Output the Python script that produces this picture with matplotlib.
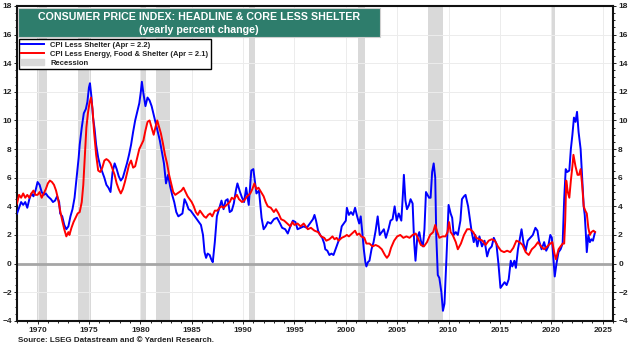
import numpy as np
import matplotlib.pyplot as plt
from matplotlib.patches import Rectangle
from matplotlib.ticker import MultipleLocator

plt.rcParams['font.family'] = ['Liberation Sans', 'DejaVu Sans']

# CPI less shelter (yearly % change)
blue_t = [1968.0, 1968.2, 1968.4, 1968.6, 1968.8, 1969.0, 1969.2, 1969.4, 1969.6, 1969.8,
          1970.0, 1970.2, 1970.4, 1970.6, 1970.8, 1971.0, 1971.3, 1971.5, 1971.7, 1971.9,
          1972.1, 1972.2, 1972.4, 1972.6, 1972.8, 1973.0, 1973.2, 1973.4, 1973.6, 1973.8,
          1974.0, 1974.1, 1974.3, 1974.5, 1974.7, 1974.85, 1975.0, 1975.1, 1975.25, 1975.4,
          1975.55, 1975.7, 1975.9, 1976.1, 1976.3, 1976.5, 1976.7, 1976.9, 1977.1, 1977.3,
          1977.5, 1977.7, 1977.9, 1978.1, 1978.3, 1978.5, 1978.7, 1978.9, 1979.1, 1979.3,
          1979.5, 1979.7, 1979.9, 1980.05, 1980.15, 1980.3, 1980.5, 1980.7, 1980.9, 1981.1,
          1981.3, 1981.5, 1981.7, 1981.9, 1982.1, 1982.3, 1982.5, 1982.7, 1982.9, 1983.1,
          1983.3, 1983.5, 1983.7, 1983.9, 1984.1, 1984.3, 1984.5, 1984.7, 1984.9, 1985.1,
          1985.3, 1985.5, 1985.7, 1985.9, 1986.1, 1986.25, 1986.4, 1986.55, 1986.75, 1986.9,
          1987.05, 1987.25, 1987.45, 1987.7, 1987.9, 1988.1, 1988.3, 1988.5, 1988.7, 1988.9,
          1989.1, 1989.3, 1989.45, 1989.7, 1989.9, 1990.1, 1990.3, 1990.55, 1990.8, 1991.0,
          1991.3, 1991.55, 1991.8, 1992.0, 1992.2, 1992.4, 1992.7, 1993.0, 1993.3, 1993.6,
          1993.8, 1994.1, 1994.35, 1994.6, 1994.85, 1995.1, 1995.3, 1995.6, 1995.9, 1996.2,
          1996.5, 1996.8, 1996.95, 1997.1, 1997.3, 1997.5, 1997.7, 1997.9, 1998.0, 1998.2,
          1998.4, 1998.6, 1998.8, 1999.0, 1999.2, 1999.4, 1999.6, 1999.8, 2000.0, 2000.1,
          2000.3, 2000.5, 2000.7, 2000.9, 2001.1, 2001.3, 2001.45, 2001.6, 2001.75, 2001.9,
          2002.0, 2002.15, 2002.3, 2002.5, 2002.7, 2002.9, 2003.1, 2003.3, 2003.5, 2003.7,
          2003.9, 2004.15, 2004.35, 2004.55, 2004.75, 2004.95, 2005.15, 2005.4, 2005.55, 2005.65,
          2005.8, 2005.95, 2006.15, 2006.3, 2006.5, 2006.65, 2006.78, 2006.95, 2007.15, 2007.3,
          2007.5, 2007.65, 2007.8, 2007.95, 2008.1, 2008.25, 2008.4, 2008.55, 2008.7, 2008.8,
          2008.95, 2009.1, 2009.3, 2009.45, 2009.6, 2009.8, 2010.0, 2010.2, 2010.35, 2010.5,
          2010.7, 2010.9, 2011.15, 2011.3, 2011.5, 2011.65, 2011.9, 2012.1, 2012.25, 2012.45,
          2012.6, 2012.8, 2013.0, 2013.25, 2013.5, 2013.75, 2013.95, 2014.2, 2014.4, 2014.65,
          2014.85, 2015.05, 2015.25, 2015.45, 2015.65, 2015.85, 2016.05, 2016.2, 2016.4, 2016.55,
          2016.75, 2016.9, 2017.1, 2017.3, 2017.5, 2017.7, 2017.95, 2018.2, 2018.45, 2018.65,
          2018.8, 2019.05, 2019.3, 2019.5, 2019.7, 2019.9, 2020.05, 2020.2, 2020.33, 2020.5,
          2020.7, 2020.9, 2021.1, 2021.25, 2021.4, 2021.55, 2021.75, 2021.9, 2022.05, 2022.2,
          2022.35, 2022.5, 2022.65, 2022.85, 2023.0, 2023.15, 2023.25, 2023.35, 2023.45, 2023.6,
          2023.75, 2023.9, 2024.05, 2024.25]
blue_v = [3.5, 3.9, 4.3, 4.1, 4.3, 3.9, 4.5, 4.9, 4.7, 5.1,
          5.7, 5.5, 5.0, 4.8, 4.9, 4.7, 4.5, 4.3, 4.4, 4.7,
          4.3, 3.5, 3.3, 2.7, 2.4, 2.6, 3.3, 3.8, 4.6, 6.0,
          7.4, 8.3, 9.5, 10.5, 10.8, 11.3, 12.3, 12.6, 11.6, 10.2,
          9.4, 8.3, 7.4, 6.8, 6.4, 6.0, 5.5, 5.3, 5.0, 6.4,
          7.0, 6.6, 6.1, 5.8, 6.0, 6.5, 7.0, 7.6, 8.3, 9.2,
          10.0, 10.6, 11.2, 12.0, 12.7, 11.9, 11.0, 11.6, 11.4, 11.0,
          10.4, 9.8, 9.2, 8.6, 7.8, 7.0, 5.6, 6.2, 5.4, 4.8,
          4.3, 3.6, 3.3, 3.4, 3.5, 4.5, 4.2, 3.8, 3.7, 3.5,
          3.3, 3.1, 2.9, 2.7, 2.0, 0.8, 0.4, 0.7, 0.6, 0.3,
          0.1, 1.5, 3.3, 3.9, 4.4, 3.8, 4.4, 4.5, 3.6, 3.7,
          4.2, 5.1, 5.6, 5.0, 4.6, 4.3, 5.3, 4.1, 6.5, 6.6,
          4.9, 5.1, 3.2, 2.4, 2.6, 2.9, 2.8, 3.1, 3.2, 2.8,
          2.5, 2.4, 2.1, 2.6, 3.0, 2.9, 2.4, 2.5, 2.6, 2.5,
          2.8, 3.1, 3.4, 3.0, 2.3, 2.0, 1.8, 1.4, 1.0, 0.9,
          0.6, 0.7, 0.6, 1.0, 1.4, 1.8, 2.6, 2.8, 3.0, 3.9,
          3.4, 3.6, 3.4, 3.9, 3.3, 2.8, 3.3, 2.2, 1.0, 0.1,
          -0.2, 0.1, 0.2, 1.0, 1.5, 2.3, 3.3, 2.0, 2.2, 2.4,
          1.8, 2.4, 3.0, 3.1, 4.0, 3.0, 3.5, 3.0, 4.8, 6.2,
          4.4, 3.8, 4.1, 4.5, 4.2, 1.5, 0.2, 1.8, 2.2, 1.6,
          1.2, 2.4, 5.0, 4.8, 4.6, 4.6, 6.4, 7.0, 6.0, 2.0,
          -0.8, -1.0, -2.0, -3.3, -2.8, 0.5, 4.1, 3.5, 3.2, 2.0,
          2.2, 2.0, 3.0, 4.5, 4.7, 4.8, 4.0, 3.0, 2.2, 1.5,
          2.0, 1.2, 1.9, 1.2, 1.6, 0.5, 1.0, 1.2, 1.8, 1.4,
          0.0, -1.7, -1.5, -1.3, -1.5, -1.1, 0.2, -0.2, 0.2, -0.3,
          1.0, 1.6, 2.4, 1.4, 0.9, 1.6, 1.8, 2.0, 2.5, 2.3,
          1.6, 1.0, 1.5, 0.9, 1.2, 2.0, 1.8, 0.3, -0.9, 0.0,
          0.8, 1.0, 1.4, 4.5, 6.6, 6.4, 6.5, 8.0, 9.0, 10.2,
          9.9, 10.6, 9.2, 8.0, 6.0, 4.0, 3.4, 2.2, 0.8, 2.0,
          1.5, 1.7, 1.6, 2.2]

# CPI less energy, food & shelter
red_t = [1968.0, 1968.2, 1968.4, 1968.6, 1968.8, 1969.0, 1969.2, 1969.4, 1969.6, 1969.8,
         1970.0, 1970.2, 1970.4, 1970.6, 1970.8, 1971.0, 1971.2, 1971.4, 1971.6, 1971.8,
         1972.0, 1972.2, 1972.4, 1972.6, 1972.8, 1973.0, 1973.1, 1973.3, 1973.5, 1973.7,
         1973.9, 1974.1, 1974.3, 1974.45, 1974.6, 1974.75, 1974.9, 1975.05, 1975.2, 1975.35,
         1975.5, 1975.7, 1975.9, 1976.1, 1976.3, 1976.5, 1976.7, 1976.9, 1977.1, 1977.3,
         1977.5, 1977.7, 1977.9, 1978.1, 1978.3, 1978.5, 1978.7, 1978.9, 1979.1, 1979.3,
         1979.5, 1979.7, 1979.9, 1980.1, 1980.3, 1980.5, 1980.7, 1980.9, 1981.1, 1981.3,
         1981.5, 1981.65, 1981.8, 1982.0, 1982.2, 1982.4, 1982.6, 1982.8, 1983.0, 1983.2,
         1983.4, 1983.6, 1983.8, 1984.0, 1984.2, 1984.4, 1984.6, 1984.8, 1985.0, 1985.2,
         1985.4, 1985.6, 1985.8, 1986.0, 1986.2, 1986.4, 1986.6, 1986.8, 1987.0, 1987.25,
         1987.5, 1987.7, 1987.9, 1988.1, 1988.4, 1988.7, 1988.9, 1989.1, 1989.4, 1989.6,
         1989.9, 1990.1, 1990.4, 1990.7, 1990.9, 1991.1, 1991.3, 1991.5, 1991.75, 1992.0,
         1992.2, 1992.4, 1992.7, 1993.0, 1993.2, 1993.45, 1993.7, 1994.0, 1994.3, 1994.6,
         1994.8, 1995.0, 1995.3, 1995.6, 1995.9, 1996.3, 1996.6, 1996.95, 1997.3, 1997.6,
         1997.9, 1998.1, 1998.4, 1998.7, 1998.9, 1999.1, 1999.3, 1999.6, 1999.9, 2000.1,
         2000.3, 2000.6, 2000.9, 2001.1, 2001.3, 2001.5, 2001.8, 2002.0, 2002.3, 2002.6,
         2002.9, 2003.2, 2003.5, 2003.8, 2004.0, 2004.2, 2004.4, 2004.7, 2005.0, 2005.3,
         2005.6, 2005.9, 2006.2, 2006.5, 2006.8, 2007.0, 2007.3, 2007.6, 2007.9, 2008.2,
         2008.5, 2008.7, 2008.9, 2009.1, 2009.4, 2009.7, 2009.9, 2010.05, 2010.2, 2010.4,
         2010.7, 2010.9, 2011.2, 2011.5, 2011.8, 2012.1, 2012.4, 2012.7, 2013.0, 2013.3,
         2013.6, 2013.9, 2014.2, 2014.5, 2014.8, 2015.1, 2015.4, 2015.7, 2016.0, 2016.3,
         2016.6, 2016.9, 2017.2, 2017.5, 2017.8, 2018.1, 2018.4, 2018.7, 2019.0, 2019.3,
         2019.6, 2019.9, 2020.1, 2020.3, 2020.45, 2020.7, 2020.9, 2021.1, 2021.25, 2021.35,
         2021.45, 2021.6, 2021.75, 2021.9, 2022.05, 2022.15, 2022.35, 2022.55, 2022.7, 2022.85,
         2023.0, 2023.15, 2023.3, 2023.45, 2023.6, 2023.75, 2023.9, 2024.1, 2024.25]
red_v = [4.2, 4.8, 4.6, 4.9, 4.6, 4.8, 4.6, 4.9, 5.1, 4.8,
         4.8, 5.0, 4.6, 4.9, 5.2, 5.6, 5.8, 5.7, 5.5, 5.1,
         4.5, 3.7, 3.0, 2.4, 1.9, 2.2, 2.0, 2.5, 2.9, 3.2,
         3.5, 3.6, 4.3, 5.5, 7.5, 9.5, 10.5, 11.2, 11.6, 10.8,
         9.2, 7.6, 6.5, 6.4, 6.7, 7.2, 7.3, 7.2, 7.0, 6.6,
         6.2, 5.6, 5.2, 4.9, 5.2, 5.7, 6.3, 6.9, 7.2, 6.7,
         6.8, 7.4, 8.0, 8.3, 8.6, 9.3, 9.9, 10.0, 9.5, 9.0,
         9.6, 10.0, 9.6, 9.1, 8.4, 7.6, 7.0, 6.2, 5.6, 5.0,
         4.8, 4.9, 5.0, 5.1, 5.3, 5.0, 4.7, 4.5, 4.3, 4.0,
         3.6, 3.4, 3.7, 3.5, 3.3, 3.2, 3.4, 3.5, 3.3, 3.7,
         3.7, 3.9, 4.0, 3.9, 4.1, 4.3, 4.6, 4.5, 4.8, 4.5,
         4.3, 4.4, 4.7, 4.9, 5.2, 5.6, 5.2, 5.3, 5.0, 4.7,
         4.3, 4.0, 3.9, 3.6, 3.8, 3.5, 3.1, 3.0, 2.8, 2.6,
         2.9, 2.7, 2.8, 2.6, 2.8, 2.4, 2.5, 2.3, 2.2, 1.9,
         1.8, 1.6, 1.7, 1.9, 1.7, 1.8, 1.6, 1.8, 1.9, 2.0,
         1.9, 2.1, 2.3, 2.0, 2.1, 1.9, 1.8, 1.4, 1.4, 1.2,
         1.3, 1.2, 1.0, 0.6, 0.4, 0.6, 1.1, 1.6, 1.9, 2.0,
         1.8, 1.9, 1.8, 2.0, 2.1, 1.8, 1.3, 1.2, 1.5, 2.0,
         2.2, 2.7, 2.2, 1.8, 1.9, 1.9, 2.2, 2.9, 2.2, 2.0,
         1.5, 1.0, 1.4, 2.0, 2.4, 2.4, 2.2, 1.8, 1.7, 1.6,
         1.3, 1.6, 1.7, 1.6, 1.2, 0.9, 0.8, 0.9, 0.8, 1.1,
         1.6, 1.5, 1.3, 0.8, 0.6, 1.0, 1.2, 1.5, 1.2, 1.0,
         1.2, 1.4, 1.5, 0.7, 0.3, 1.0, 1.2, 1.4, 1.4, 3.0,
         5.8, 5.0, 4.6, 5.8, 6.8, 7.6, 6.8, 6.2, 6.2, 6.6,
         5.5, 4.0, 3.7, 3.5, 2.5, 2.0, 2.2, 2.3, 2.2]

# recession periods (start, end)
rec_start = [1969.95, 1973.9, 1980.0, 1981.55, 1990.55, 2001.2, 2007.95, 2020.1]
rec_end = [1970.9, 1975.2, 1980.55, 1982.9, 1991.2, 2001.9, 2009.5, 2020.35]

fig = plt.figure(figsize=(6.3, 3.48), dpi=100)
ax = fig.add_axes([0.027, 0.078, 0.946, 0.905])

for s, e in zip(rec_start, rec_end):
    ax.axvspan(s, e, color='#d9d9d9', lw=0, zorder=0)
ax.axhline(0, color='#a6a6a6', lw=2, zorder=1)

ax.plot(blue_t, blue_v, color='#0000ff', lw=1.4, zorder=3, label='CPI Less Shelter (Apr = 2.2)')
ax.plot(red_t, red_v, color='#ff0000', lw=1.4, zorder=4,
        label='CPI Less Energy, Food & Shelter (Apr = 2.1)')
ax.fill_between([], [], color='#d9d9d9', label='Recession')

ax.set_xlim(1968, 2026)
ax.set_ylim(-4, 18)
ax.set_xticks(range(1970, 2026, 5))
ax.xaxis.set_minor_locator(MultipleLocator(1))
ax.set_yticks(range(-4, 19, 2))
ax.yaxis.set_minor_locator(MultipleLocator(0.5))
ax.grid(True, which='major', color='#ececec', lw=0.7, zorder=0)
ax.set_axisbelow(True)
ax.tick_params(axis='both', which='both', labelsize=6.0, colors='#222222', length=2.2, width=0.7)
ax.tick_params(which='minor', length=1.3)
ax.tick_params(axis='y', which='both', right=True, labelright=True, pad=1.5)
ax.tick_params(axis='x', pad=2.5)
for lab in ax.get_xticklabels() + ax.get_yticklabels():
    lab.set_fontweight('bold')
for t in ax.yaxis.get_major_ticks():
    t.label2.set_fontweight('bold')
for sp in ax.spines.values():
    sp.set_linewidth(1.5)
    sp.set_color('#111111')

# title banner
ax.add_patch(Rectangle((0.002, 0.902), 0.607, 0.092, transform=ax.transAxes,
                       facecolor='#2e7d6c', edgecolor='#cfcfcf', lw=0.8, zorder=6))
ax.text(0.305, 0.966, 'CONSUMER PRICE INDEX: HEADLINE & CORE LESS SHELTER', transform=ax.transAxes,
        ha='center', va='center', color='white', fontsize=7.7, fontweight='bold', zorder=7)
ax.text(0.305, 0.924, '(yearly percent change)', transform=ax.transAxes,
        ha='center', va='center', color='white', fontsize=7.7, fontweight='bold', zorder=7)

leg = ax.legend(loc='upper left', bbox_to_anchor=(0.0, 0.9), fontsize=5.5, frameon=True,
                fancybox=False, edgecolor='black', framealpha=1, borderpad=0.35,
                labelspacing=0.2, handlelength=3.0, handletextpad=0.8, borderaxespad=0.2)
leg.get_frame().set_linewidth(1.0)
leg.set_zorder(8)
for txt in leg.get_texts():
    txt.set_fontweight('bold')
    txt.set_color('#222222')

fig.text(0.028, 0.012, 'Source: LSEG Datastream and \u00a9 Yardeni Research.', fontsize=5.8,
         fontweight='bold', color='#222222', ha='left', va='bottom')

fig.savefig('out.png', dpi=100)
